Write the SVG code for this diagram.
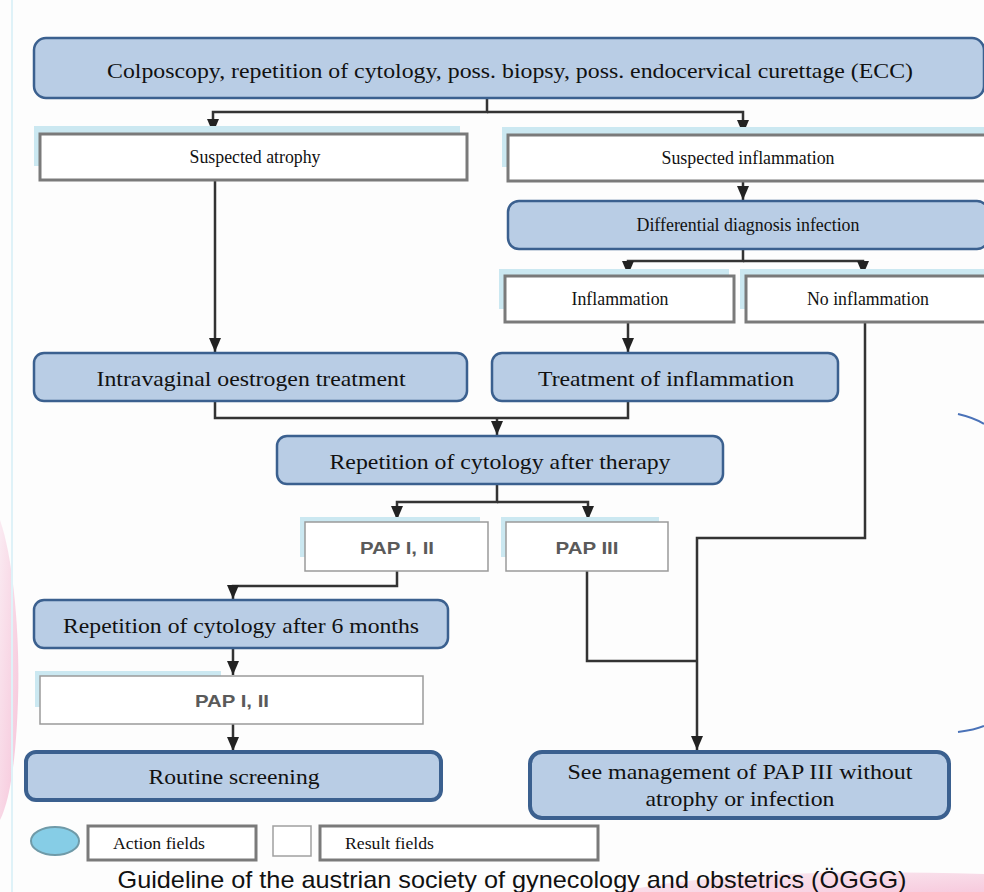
<svg xmlns="http://www.w3.org/2000/svg" width="984" height="892" viewBox="0 0 984 892">
<defs>
<style>
.act{fill:#b9cde5;stroke:#3b608f;stroke-width:2.5}
.act2{fill:#b9cde5;stroke:#3b608f;stroke-width:4}
.res{fill:#ffffff;stroke:#7a7a7a;stroke-width:3}
.res2{fill:#ffffff;stroke:#9a9a9a;stroke-width:1.5}
.sh{fill:#cbe8f1}
.t{font-family:"Liberation Serif","Times New Roman",serif;fill:#111111;text-anchor:middle}
.ts{font-family:"Liberation Serif","Times New Roman",serif;fill:#111111;text-anchor:middle;font-size:18px}
.ta{font-family:"Liberation Sans",Arial,sans-serif;fill:#5a5a5a;text-anchor:middle;font-size:17px;font-weight:bold}
.c{fill:none;stroke:#333333;stroke-width:2.5}
</style>
<marker id="ah" viewBox="0 0 14 12" refX="14" refY="6" markerWidth="14" markerHeight="12" markerUnits="userSpaceOnUse" orient="auto">
<path d="M0,0 L14,6 L0,12 z" fill="#222222"/>
</marker>
<linearGradient id="pk" x1="0" y1="0" x2="1" y2="1">
<stop offset="0" stop-color="#f7d3e3"/>
<stop offset="1" stop-color="#ee7fae"/>
</linearGradient>
</defs>
<rect width="984" height="892" fill="#fdfdfd"/>
<path d="M0,520 C14,560 20,640 18,700 C16,760 10,800 0,820 Z" fill="url(#pk)" opacity="0.45"/>
<path d="M620,892 C700,874 820,870 984,874 L984,892 Z" fill="url(#pk)" opacity="0.4"/>
<line x1="12" y1="0" x2="12" y2="892" stroke="#dff2f8" stroke-width="2"/>
<path d="M958,414 Q975,418 984,424" fill="none" stroke="#4a72b8" stroke-width="2"/>
<path d="M958,732 Q975,730 984,726" fill="none" stroke="#4a72b8" stroke-width="2"/>

<g id="connectors">
<path class="c" d="M487,98 V112 H213 V133" marker-end="url(#ah)"/>
<path class="c" d="M487,112 H743 V134" marker-end="url(#ah)"/>
<path class="c" d="M743,181 V200" marker-end="url(#ah)"/>
<path class="c" d="M743,249 V261 H628 V275" marker-end="url(#ah)"/>
<path class="c" d="M743,261 H863 V275" marker-end="url(#ah)"/>
<path class="c" d="M628,322 V352" marker-end="url(#ah)"/>
<path class="c" d="M215,180 V352" marker-end="url(#ah)"/>
<path class="c" d="M215,401 V418 H628 V401"/>
<path class="c" d="M497,418 V435" marker-end="url(#ah)"/>
<path class="c" d="M497,484 V502 H397 V520" marker-end="url(#ah)"/>
<path class="c" d="M497,502 H588 V520" marker-end="url(#ah)"/>
<path class="c" d="M397,571 V586 H233 V599" marker-end="url(#ah)"/>
<path class="c" d="M233,648 V675" marker-end="url(#ah)"/>
<path class="c" d="M233,724 V751" marker-end="url(#ah)"/>
<path class="c" d="M865,322 V538 H697 V750" marker-end="url(#ah)"/>
<path class="c" d="M587,571 V661 H697"/>
</g>

<g id="n-colposcopy">
<rect class="act" x="34" y="38" width="950" height="60" rx="12"/>
<text class="t" x="510" y="78" font-size="22" textLength="806" lengthAdjust="spacingAndGlyphs">Colposcopy, repetition of cytology, poss. biopsy, poss. endocervical curettage (ECC)</text>
</g>
<g id="n-atrophy">
<rect class="sh" x="34" y="126" width="426" height="40"/>
<rect class="res" x="40" y="134" width="427" height="46"/>
<text class="ts" x="255" y="163" textLength="131" lengthAdjust="spacingAndGlyphs">Suspected atrophy</text>
</g>
<g id="n-susp-inflammation">
<rect class="sh" x="502" y="127" width="482" height="40"/>
<rect class="res" x="508" y="135" width="478" height="46"/>
<text class="ts" x="748" y="164" textLength="173" lengthAdjust="spacingAndGlyphs">Suspected inflammation</text>
</g>
<g id="n-diff">
<rect class="act" x="508" y="201" width="480" height="48" rx="11"/>
<text class="ts" x="748" y="231" textLength="223" lengthAdjust="spacingAndGlyphs">Differential diagnosis infection</text>
</g>
<g id="n-inflammation">
<rect class="sh" x="499" y="269" width="230" height="40"/>
<rect class="res" x="505" y="276" width="229" height="46"/>
<text class="ts" x="620" y="305" textLength="97" lengthAdjust="spacingAndGlyphs">Inflammation</text>
</g>
<g id="n-no-inflammation">
<rect class="sh" x="740" y="269" width="244" height="40"/>
<rect class="res" x="746" y="276" width="240" height="46"/>
<text class="ts" x="868" y="305" textLength="122" lengthAdjust="spacingAndGlyphs">No inflammation</text>
</g>
<g id="n-oestrogen">
<rect class="act" x="34" y="353" width="433" height="48" rx="10"/>
<text class="t" x="251" y="386" font-size="21" textLength="309" lengthAdjust="spacingAndGlyphs">Intravaginal oestrogen treatment</text>
</g>
<g id="n-treat-inflammation">
<rect class="act" x="492" y="353" width="346" height="48" rx="10"/>
<text class="t" x="666" y="386" font-size="21" textLength="256" lengthAdjust="spacingAndGlyphs">Treatment of inflammation</text>
</g>
<g id="n-rep-therapy">
<rect class="act" x="277" y="436" width="446" height="48" rx="10"/>
<text class="t" x="500" y="469" font-size="21" textLength="341" lengthAdjust="spacingAndGlyphs">Repetition of cytology after therapy</text>
</g>
<g id="n-pap12a">
<rect class="sh" x="300" y="517" width="180" height="40"/>
<rect class="res2" x="305" y="522" width="183" height="49"/>
<text class="ta" x="397" y="554" textLength="74" lengthAdjust="spacingAndGlyphs">PAP I, II</text>
</g>
<g id="n-pap3">
<rect class="sh" x="501" y="517" width="158" height="40"/>
<rect class="res2" x="506" y="522" width="162" height="49"/>
<text class="ta" x="587" y="554" textLength="63" lengthAdjust="spacingAndGlyphs">PAP III</text>
</g>
<g id="n-rep-6m">
<rect class="act" x="34" y="600" width="414" height="48" rx="10"/>
<text class="t" x="241" y="633" font-size="21" textLength="356" lengthAdjust="spacingAndGlyphs">Repetition of cytology after 6 months</text>
</g>
<g id="n-pap12b">
<rect class="sh" x="35" y="671" width="186" height="36"/>
<rect class="res2" x="40" y="676" width="383" height="48"/>
<text class="ta" x="232" y="707" textLength="74" lengthAdjust="spacingAndGlyphs">PAP I, II</text>
</g>
<g id="n-routine">
<rect class="act2" x="26" y="752" width="415" height="48" rx="10"/>
<text class="t" x="234" y="784" font-size="21" textLength="171" lengthAdjust="spacingAndGlyphs">Routine screening</text>
</g>
<g id="n-see-management">
<rect class="act2" x="530" y="752" width="419" height="66" rx="12"/>
<text class="t" x="740" y="779" font-size="21" textLength="345" lengthAdjust="spacingAndGlyphs">See management of PAP III without</text>
<text class="t" x="740" y="806" font-size="21" textLength="189" lengthAdjust="spacingAndGlyphs">atrophy or infection</text>
</g>

<g id="legend">
<ellipse cx="55" cy="841" rx="24" ry="14" fill="#86cde6" stroke="#6f9aa8" stroke-width="2"/>
<rect x="88" y="826" width="168" height="34" fill="#ffffff" stroke="#7a7a7a" stroke-width="3"/>
<text x="113" y="849" font-family="Liberation Serif, Times New Roman, serif" font-size="17" fill="#111111" textLength="92" lengthAdjust="spacingAndGlyphs">Action fields</text>
<rect x="273" y="826" width="38" height="30" fill="#ffffff" stroke="#a0a0a0" stroke-width="1.5"/>
<rect x="320" y="826" width="278" height="34" fill="#ffffff" stroke="#7a7a7a" stroke-width="3"/>
<text x="345" y="849" font-family="Liberation Serif, Times New Roman, serif" font-size="17" fill="#111111" textLength="89" lengthAdjust="spacingAndGlyphs">Result fields</text>
</g>
<text x="512" y="888" font-family="Liberation Sans, Arial, sans-serif" font-size="24" fill="#111111" text-anchor="middle" textLength="789" lengthAdjust="spacingAndGlyphs">Guideline of the austrian society of gynecology and obstetrics (ÖGGG)</text>
</svg>
